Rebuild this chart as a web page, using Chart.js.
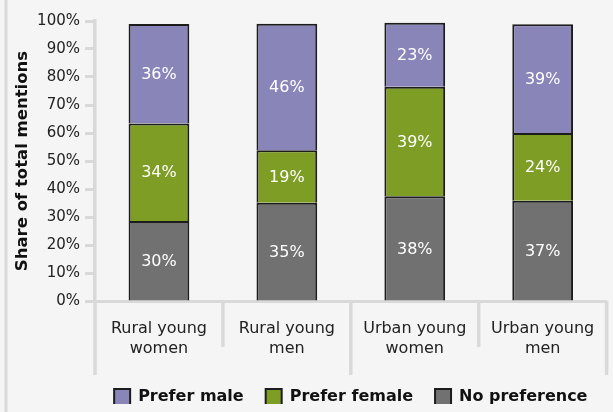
<!DOCTYPE html>
<html>
<head>
<meta charset="utf-8">
<script src="https://cdn.jsdelivr.net/npm/chart.js@4.4.1/dist/chart.umd.min.js"></script>
<style>
  html, body { margin: 0; padding: 0; background: #f5f5f5; }
  #wrap { width: 613px; height: 412px; position: relative; }
  canvas { display: block; }
</style>
</head>
<body>
<div id="wrap"><canvas id="c" width="613" height="412"></canvas></div>
<script>
// ---- data ----
const categories = [["Rural young", "women"], ["Rural young", "men"], ["Urban young", "women"], ["Urban young", "men"]];
const seriesNames = ["No preference", "Prefer female", "Prefer male"];
const noPreference = [28.6, 35.1, 37.4, 35.8];
const preferFemale = [34.8, 18.7, 39.1, 24.2];
const preferMale = [35.5, 45.2, 22.9, 38.8];
const noPreferenceLabels = ["30%", "35%", "38%", "37%"];
const preferFemaleLabels = ["34%", "19%", "39%", "24%"];
const preferMaleLabels = ["36%", "46%", "23%", "39%"];
const yTickValues = [0, 10, 20, 30, 40, 50, 60, 70, 80, 90, 100];
const yAxisTitle = "Share of total mentions";

const FONT = "'DejaVu Sans', sans-serif";
const AXIS_GRAY = '#d9d9d9';

// background + frame line
const framePlugin = {
  id: 'frame',
  beforeDraw(chart) {
    const ctx = chart.ctx;
    ctx.save();
    ctx.fillStyle = '#f5f5f5';
    ctx.fillRect(0, 0, chart.width, chart.height);
    ctx.strokeStyle = AXIS_GRAY;
    ctx.lineWidth = 3;
    ctx.beginPath();
    ctx.moveTo(6, 0);
    ctx.lineTo(6, chart.height);
    ctx.stroke();
    ctx.restore();
  }
};

// centre the legend under the plot area instead of the whole canvas
const legendShiftPlugin = {
  id: 'legendShift',
  afterUpdate(chart) {
    const lg = chart.legend;
    if (!lg) return;
    const area = chart.chartArea;
    const shift = (area.left + area.right) / 2 - (lg.left + lg.right) / 2;
    lg.left += shift;
    lg.right += shift;
  }
};

// category separators below the x axis (alternating lengths)
const separatorPlugin = {
  id: 'separators',
  afterDraw(chart) {
    const x = chart.scales.x;
    const area = chart.chartArea;
    const ctx = chart.ctx;
    const n = categories.length;
    const step = (area.right - area.left) / n;
    ctx.save();
    ctx.strokeStyle = AXIS_GRAY;
    ctx.lineWidth = 3.5;
    for (let i = 0; i <= n; i++) {
      const px = i < n ? x.getPixelForValue(i) - step / 2 : x.getPixelForValue(n - 1) + step / 2;
      const len = (i % 2 === 0) ? 74 : 46;
      ctx.beginPath();
      ctx.moveTo(px, area.bottom);
      ctx.lineTo(px, area.bottom + len);
      ctx.stroke();
    }
    ctx.restore();
  }
};

// value labels centred in each segment
const labelSets = [noPreferenceLabels, preferFemaleLabels, preferMaleLabels];
const valueLabelPlugin = {
  id: 'valueLabels',
  afterDatasetsDraw(chart) {
    const ctx = chart.ctx;
    ctx.save();
    ctx.fillStyle = '#ffffff';
    ctx.font = "16px " + FONT;
    ctx.textAlign = 'center';
    ctx.textBaseline = 'middle';
    chart.data.datasets.forEach((ds, di) => {
      const meta = chart.getDatasetMeta(di);
      meta.data.forEach((el, i) => {
        const p = el.getProps(['x', 'y', 'base'], true);
        ctx.fillText(labelSets[di][i], p.x, (p.y + p.base) / 2 + 1);
      });
    });
    ctx.restore();
  }
};

const chart = new Chart(document.getElementById('c'), {
  type: 'bar',
  data: {
    labels: categories,
    datasets: [
      { label: seriesNames[0], data: noPreference, backgroundColor: '#717171', borderColor: '#1c1c1c', borderWidth: 2 },
      { label: seriesNames[1], data: preferFemale, backgroundColor: '#7e9d24', borderColor: '#1c1c1c', borderWidth: 2 },
      { label: seriesNames[2], data: preferMale, backgroundColor: '#8985b9', borderColor: '#1c1c1c', borderWidth: 2 }
    ]
  },
  options: {
    responsive: false,
    animation: false,
    devicePixelRatio: 1,
    layout: { padding: { left: 0, right: 6, top: 21, bottom: 8 } },
    datasets: { bar: { categoryPercentage: 1.0, barPercentage: 0.475 } },
    plugins: {
      tooltip: { enabled: false },
      legend: {
        position: 'bottom',
        reverse: true,
        maxHeight: 37,
        labels: {
          boxWidth: 16,
          boxHeight: 16,
          padding: 22,
          color: '#111',
          font: { family: FONT, size: 16, weight: 'bold' }
        }
      }
    },
    scales: {
      x: {
        stacked: true,
        grid: { display: true, drawOnChartArea: false, drawTicks: false },
        border: { display: true, color: AXIS_GRAY, width: 3 },
        ticks: {
          color: '#222',
          padding: 18,
          maxRotation: 0,
          autoSkip: false,
          font: { family: FONT, size: 16, lineHeight: 1.25 }
        },
        afterFit(s) { s.height = 66; }
      },
      y: {
        stacked: true,
        min: 0,
        max: 100,
        afterBuildTicks(s) { s.ticks = yTickValues.map(v => ({ value: v })); },
        grid: { display: true, drawOnChartArea: false, drawTicks: true, tickLength: 10, tickWidth: 3, tickColor: AXIS_GRAY },
        border: { display: true, color: AXIS_GRAY, width: 3.5 },
        ticks: {
          color: '#222',
          padding: 5,
          font: { family: FONT, size: 15 },
          callback: v => v + '%'
        },
        title: {
          display: true,
          text: yAxisTitle,
          color: '#111',
          padding: { top: 13, bottom: 0 },
          font: { family: FONT, size: 16.5, weight: 'bold' }
        },
        afterFit(s) { s.width = 95; }
      }
    }
  },
  plugins: [framePlugin, legendShiftPlugin, separatorPlugin, valueLabelPlugin]
});
</script>
</body>
</html>
